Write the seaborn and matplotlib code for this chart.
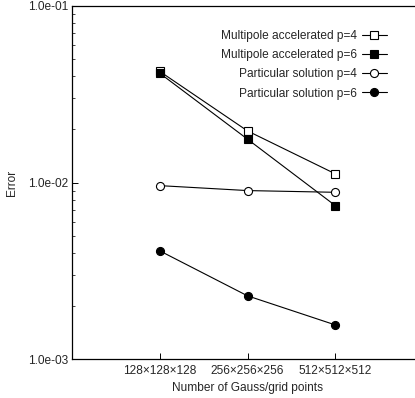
import numpy as np
import pandas as pd
import matplotlib
matplotlib.use("Agg")
import matplotlib.pyplot as plt
import matplotlib.ticker as mticker
import seaborn as sns

# Grid resolutions and errors for each solver variant
grids = ["128×128×128", "256×256×256", "512×512×512"]
multipole_p4 = [0.0426, 0.0196, 0.0112]
multipole_p6 = [0.0416, 0.0176, 0.0074]
particular_p4 = [0.0096, 0.0090, 0.0088]
particular_p6 = [0.0041, 0.00228, 0.00156]

series_labels = [
    "Multipole accelerated p=4",
    "Multipole accelerated p=6",
    "Particular solution p=4",
    "Particular solution p=6",
]
series_values = [multipole_p4, multipole_p6, particular_p4, particular_p6]
series_markers = ["s", "s", "o", "o"]
series_fill = ["white", "black", "white", "black"]

FS = 8.6

sns.set_style("ticks")
plt.rcParams["font.family"] = ["Liberation Sans", "DejaVu Sans"]
plt.rcParams["font.size"] = FS

fig = plt.figure(figsize=(4.15, 3.98), dpi=100)
ax = fig.add_axes([72 / 415, 1 - 359 / 398, (423 - 72) / 415, (359 - 6) / 398])

xpos = np.arange(1, len(grids) + 1)
for label, vals, mk, fc in zip(series_labels, series_values, series_markers, series_fill):
    df = pd.DataFrame({"x": xpos, "err": vals})
    sns.lineplot(data=df, x="x", y="err", ax=ax, color="black", linewidth=0.8,
                 marker=mk, markersize=5.8, markerfacecolor=fc,
                 markeredgecolor="black", markeredgewidth=0.8, label=label)

ax.set_yscale("log")
ax.set_ylim(1e-3, 1e-1)
ax.set_xlim(0, 4)
ax.set_xticks(xpos)
ax.set_xticklabels(grids)
ax.yaxis.set_major_locator(mticker.FixedLocator([1e-3, 1e-2, 1e-1]))
ax.yaxis.set_major_formatter(mticker.FuncFormatter(lambda v, p: f"{v:.1e}"))
ax.yaxis.set_minor_locator(mticker.LogLocator(base=10, subs=np.arange(2, 10)))
ax.yaxis.set_minor_formatter(mticker.NullFormatter())
ax.tick_params(axis="both", which="major", direction="in", length=4, width=0.7,
               labelsize=FS, pad=3, color="black")
ax.tick_params(axis="x", which="major", pad=4)
ax.tick_params(axis="y", which="minor", direction="in", length=2.5, width=0.6)

for side in ["left", "bottom", "top", "right"]:
    ax.spines[side].set_color("black")
    ax.spines[side].set_linewidth(0.9)

ax.set_xlabel("Number of Gauss/grid points", fontsize=FS, labelpad=4)
ax.set_ylabel("Error", fontsize=FS, labelpad=7)

leg = ax.legend(loc="upper right", bbox_to_anchor=(387 / 415, 1 - 30 / 398),
                bbox_transform=fig.transFigure, frameon=False, markerfirst=False,
                handlelength=2.1, handletextpad=0.42, labelspacing=0.6,
                borderpad=0, borderaxespad=0, fontsize=FS)

fig.savefig("out.png", dpi=100)
